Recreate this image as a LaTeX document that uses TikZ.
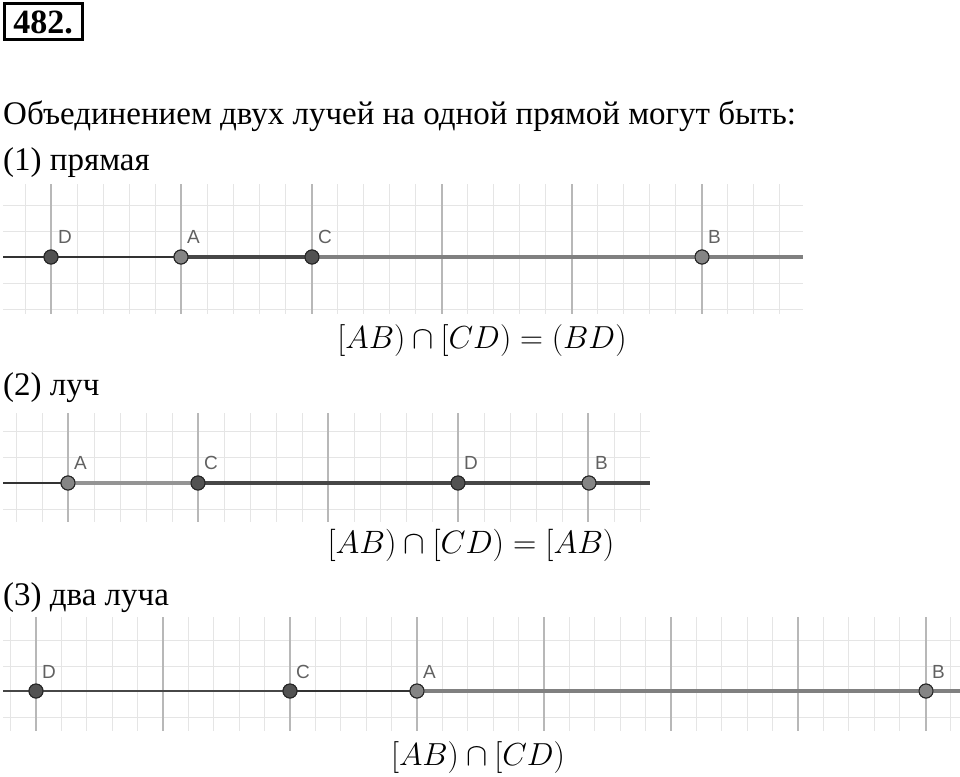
\documentclass[tikz,border=0pt]{standalone}
\usepackage{fontspec}
\setmainfont{Liberation Serif}
\newfontfamily\lblfont{Liberation Sans}
\begin{document}
\begin{tikzpicture}[x=1pt,y=-1pt,
  minorgrid/.style={draw=black!10, line width=0.9pt},
  majorgrid/.style={draw=black!28, line width=1.1pt},
  pt/.style={circle, draw=black!85, line width=1pt, minimum size=14pt, inner sep=0pt},
  ptdark/.style={pt, fill=black!68},
  ptlight/.style={pt, fill=black!48},
  lbl/.style={font=\lblfont\fontsize{19}{21}\selectfont, text=black!62, anchor=base west, inner sep=0pt},
  thinline/.style={draw=black!80, line width=1.6pt},
  darkray/.style={draw=black!72, line width=4pt},
  grayray/.style={draw=black!50, line width=4.5pt},
  txt/.style={anchor=base west, inner sep=0pt, font=\fontsize{33}{36}\selectfont},
  formula/.style={anchor=base, inner sep=0pt, font=\fontsize{24.88}{30}\selectfont},
  numbox/.style={draw=black, line width=3pt, anchor=north west, inner sep=0pt, minimum width=78pt, minimum height=36pt, font=\fontsize{34}{36}\selectfont\bfseries},
  ]
\useasboundingbox (0,0) rectangle (960,776);

% title
\node[numbox] (num) at (2.5,2.5) {482.};
\node[txt] (t0) at (3,124) {Объединением двух лучей на одной прямой могут быть:};
\node[txt] (t1) at (3,170) {(1) прямая};
\node[txt] (t2) at (3,395) {(2) луч};
\node[txt] (t3) at (3,605) {(3) два луча};

% ---------- panel 1 ----------
\foreach \x in {25,77,103,129,155,207,233,259,285,337,363,389,415,467,493,519,545,597,623,649,675,727,753,779}
  \draw[minorgrid] (\x,184) -- (\x,314);
\foreach \y in {205,231,283,309}
  \draw[minorgrid] (3,\y) -- (803,\y);
\foreach \x in {51,181,312,442,572,702}
  \draw[majorgrid] (\x,184) -- (\x,314);
\coordinate (L1) at (3,257);
\coordinate (R1) at (803,257);
\node[ptdark]  (D1) at (51,257) {};
\node[ptlight] (A1) at (181,257) {};
\node[ptdark]  (C1) at (312,257) {};
\node[ptlight] (B1) at (702,257) {};
\draw[thinline] (L1) -- (A1.center);
\draw[darkray] (A1.center) -- (C1.center);
\draw[grayray] (C1.center) -- (R1);
\node[ptdark]  at (D1) {};
\node[ptlight] at (A1) {};
\node[ptdark]  at (C1) {};
\node[ptlight] at (B1) {};
\node[lbl] (lD1) at (58,243) {D};
\node[lbl] (lA1) at (187,243) {A};
\node[lbl] (lC1) at (318,243) {C};
\node[lbl] (lB1) at (708,243) {B};
\node[formula] (f1) at (482,348) {\scalebox{1.28}{$[AB)\cap[CD)=(BD)$}};

% ---------- panel 2 ----------
\foreach \x in {16,42,94,120,146,172,224,250,276,302,354,380,406,432,484,510,536,562,614,640}
  \draw[minorgrid] (\x,413) -- (\x,522);
\foreach \y in {431,457,509}
  \draw[minorgrid] (3,\y) -- (650,\y);
\foreach \x in {68,198,328,458,588}
  \draw[majorgrid] (\x,413) -- (\x,522);
\coordinate (L2) at (3,483);
\coordinate (R2) at (650,483);
\node[ptlight] (A2) at (68,483) {};
\node[ptdark]  (C2) at (198,483) {};
\node[ptdark]  (D2) at (458,483) {};
\node[ptlight] (B2) at (589,483) {};
\draw[thinline, line width=1.2pt] (L2) -- (A2.center);
\draw[grayray, draw=black!42] (A2.center) -- (C2.center);
\draw[darkray] (C2.center) -- (R2);
\node[ptlight] at (A2) {};
\node[ptdark]  at (C2) {};
\node[ptdark]  at (D2) {};
\node[ptlight] at (B2) {};
\node[lbl] (lA2) at (74,469) {A};
\node[lbl] (lC2) at (204,469) {C};
\node[lbl] (lD2) at (464,469) {D};
\node[lbl] (lB2) at (595,469) {B};
\node[formula] (f2) at (471,553) {\scalebox{1.3}{$[AB)\cap[CD)=[AB)$}};

% ---------- panel 3 ----------
\foreach \x in {10.6,61.4,86.8,112.2,137.6,188.4,213.8,239.2,264.6,315.4,340.8,366.2,391.6,442.4,467.8,493.2,518.6,569.4,594.8,620.2,645.6,696.4,721.8,747.2,772.6,823.4,848.8,874.2,899.6,950.4}
  \draw[minorgrid] (\x,617) -- (\x,731);
\foreach \y in {640,666,717}
  \draw[minorgrid] (3,\y) -- (960,\y);
\foreach \x in {36,163,290,417,544,671,798,926}
  \draw[majorgrid] (\x,617) -- (\x,731);
\coordinate (L3) at (3,691);
\coordinate (R3) at (960,691);
\node[ptdark]  (D3) at (36,691) {};
\node[ptdark]  (C3) at (290,691) {};
\node[ptlight] (A3) at (417,691) {};
\node[ptlight] (B3) at (926,691) {};
\draw[darkray, line width=2.6pt] (L3) -- (C3.center);
\draw[thinline, line width=1.3pt] (C3.center) -- (A3.center);
\draw[grayray] (A3.center) -- (R3);
\node[ptdark]  at (D3) {};
\node[ptdark]  at (C3) {};
\node[ptlight] at (A3) {};
\node[ptlight] at (B3) {};
\node[lbl] (lD3) at (42,678) {D};
\node[lbl] (lC3) at (296,678) {C};
\node[lbl] (lA3) at (423,678) {A};
\node[lbl] (lB3) at (932,678) {B};
\node[formula] (f3) at (478,765) {\scalebox{1.28}{$[AB)\cap[CD)$}};
\end{tikzpicture}
\end{document}
